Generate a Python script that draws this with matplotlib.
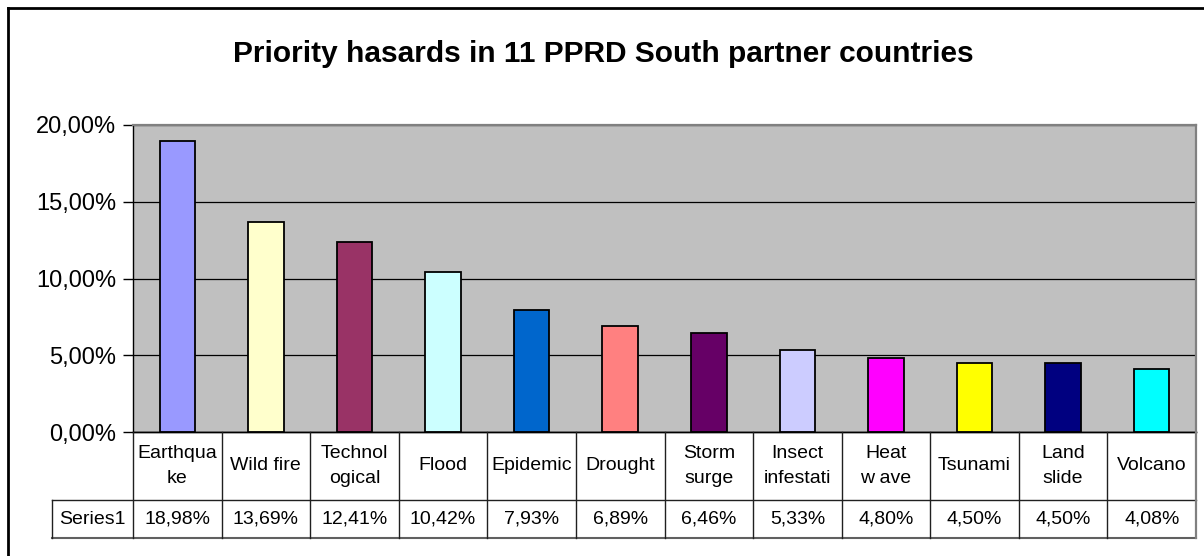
import matplotlib
matplotlib.use("Agg")
import matplotlib.pyplot as plt
from matplotlib.ticker import FuncFormatter

# ---- data ----
categories = ["Earthqua\nke", "Wild fire", "Technol\nogical", "Flood", "Epidemic",
              "Drought", "Storm\nsurge", "Insect\ninfestati", "Heat\nw ave",
              "Tsunami", "Land\nslide", "Volcano"]
values = [18.98, 13.69, 12.41, 10.42, 7.93, 6.89, 6.46, 5.33, 4.80, 4.50, 4.50, 4.08]
value_labels = ["18,98%", "13,69%", "12,41%", "10,42%", "7,93%", "6,89%",
                "6,46%", "5,33%", "4,80%", "4,50%", "4,50%", "4,08%"]
series_name = "Series1"
colors = ["#9999FF", "#FFFFCC", "#993366", "#CCFFFF", "#0066CC", "#FF8080",
          "#660066", "#CCCCFF", "#FF00FF", "#FFFF00", "#000080", "#00FFFF"]
title = "Priority hasards in 11 PPRD South partner countries"
yticks = [0, 5, 10, 15, 20]

plt.rcParams['font.family'] = ['Liberation Sans', 'DejaVu Sans']

W, H = 1204, 556
fig = plt.figure(figsize=(W / 100, H / 100), dpi=100)

# outer chart frame (only left and top visible in the crop)
fig.add_artist(plt.Line2D([8 / W, 8 / W], [0, 1 - 8 / H], color='black', lw=2,
                          transform=fig.transFigure))
fig.add_artist(plt.Line2D([8 / W, 1], [1 - 8 / H, 1 - 8 / H], color='black', lw=2,
                          transform=fig.transFigure))

fig.text(603 / W, 1 - 62 / H, title, ha='center', va='baseline', fontsize=21.5,
         fontweight='bold')

left, right, top, bottom = 133, 1196, 125, 432
ax = fig.add_axes([left / W, 1 - bottom / H, (right - left) / W, (bottom - top) / H])
ax.set_facecolor('#C0C0C0')
x = list(range(len(values)))
ax.bar(x, [v / 100 for v in values], width=0.4, color=colors, edgecolor='black',
       linewidth=1.3, zorder=3)
ax.set_xlim(-0.5, len(values) - 0.5)
ax.set_ylim(0, 0.20)
ax.set_yticks([t / 100 for t in yticks])
ax.yaxis.set_major_formatter(FuncFormatter(lambda v, p: f"{v*100:.2f}%".replace('.', ',')))
ax.yaxis.grid(True, color='black', lw=0.9, zorder=1)
ax.set_axisbelow(True)
ax.set_xticks([])
ax.tick_params(axis='y', direction='out', length=7, width=1, labelsize=17, pad=5,
               colors='black')
for s in ['top', 'right']:
    ax.spines[s].set_color('#808080')
    ax.spines[s].set_linewidth(1.6)
ax.spines['left'].set_color('black')
ax.spines['left'].set_linewidth(1)
ax.spines['bottom'].set_color('black')
ax.spines['bottom'].set_linewidth(1)

# ---- data table ----
tab_bottom = 538
sep = 500
tax = fig.add_axes([left / W, 1 - tab_bottom / H, (right - left) / W, (tab_bottom - bottom) / H])
tax.set_xlim(-0.5, len(values) - 0.5)
tax.set_ylim(0, tab_bottom - bottom)
tax.axis('off')
colw = (right - left) / len(values)
xs = -0.5 - (left - 52) / colw
hrow = tab_bottom - sep
htop = tab_bottom - bottom
lc = '#202020'
tax.plot([-0.5, len(values) - 0.5], [htop, htop], color='black', lw=1, clip_on=False)
tax.plot([xs, len(values) - 0.5], [hrow, hrow], color=lc, lw=1, clip_on=False)
tax.plot([xs, len(values) - 0.5], [0, 0], color='#606060', lw=1.5, clip_on=False)
tax.plot([xs, xs], [0, hrow], color=lc, lw=1, clip_on=False)
tax.plot([-0.5, -0.5], [0, htop], color=lc, lw=1, clip_on=False)
for i in range(len(values)):
    c = '#808080' if i == len(values) - 1 else lc
    lw = 1.6 if i == len(values) - 1 else 1
    tax.plot([i + 0.5, i + 0.5], [0, htop], color=c, lw=lw, clip_on=False)
    tax.text(i, (htop + hrow) / 2, categories[i], ha='center', va='center',
             fontsize=14, linespacing=1.6, clip_on=False)
    tax.text(i, hrow / 2, value_labels[i], ha='center', va='center', fontsize=14,
             clip_on=False)
tax.text((xs - 0.5) / 2, hrow / 2, series_name, ha='center', va='center',
         fontsize=14, clip_on=False)

fig.savefig("out.png", dpi=100)
